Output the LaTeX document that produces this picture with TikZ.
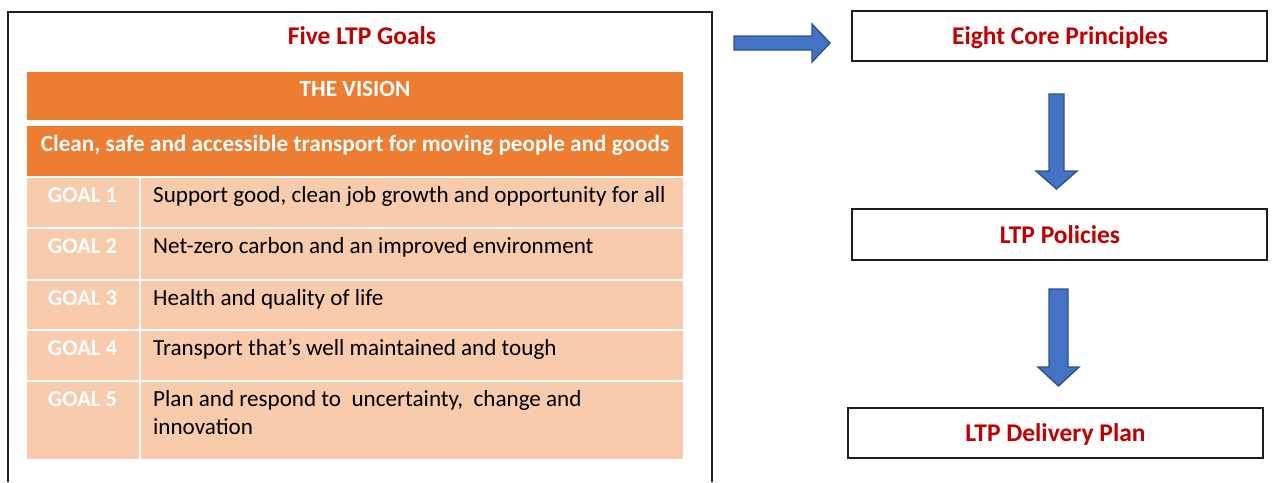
\documentclass[tikz,border=0pt]{standalone}
\usepackage{fontspec}
\setmainfont{Carlito}
\usetikzlibrary{calc}
\definecolor{ltpred}{HTML}{C00000}
\definecolor{ltporange}{HTML}{ED7D31}
\definecolor{ltppeach}{HTML}{F8CBAD}
\definecolor{arrowfill}{HTML}{4472C4}
\definecolor{arrowline}{HTML}{2F528F}
\definecolor{frame}{HTML}{1E1E1E}
\tikzset{
  heading/.style={font=\fontsize{25.5}{28}\selectfont\bfseries, text=ltpred, inner sep=0pt, anchor=base},
  bandtext/.style={font=\fontsize{23.2}{28}\selectfont\bfseries, text=white, inner sep=0pt, anchor=base},
  goallabel/.style={font=\fontsize{22.6}{28}\selectfont\bfseries, text=white, inner sep=0pt, anchor=base},
  goaltext/.style={font=\fontsize{23.1}{28}\selectfont, text=black, inner sep=0pt, anchor=base west, align=left},
  stagebox/.style={draw=frame, line width=2pt, fill=white},
  blockarrow/.style={fill=arrowfill, draw=arrowline, line width=1.4pt, line join=miter},
}
\begin{document}
\begin{tikzpicture}[x=1pt, y=-1pt]
\useasboundingbox (0,0) rectangle (1273,482);

% outer frame of the goals panel (runs off the bottom edge)
\draw[frame, line width=1.8pt] (8,482) -- (8,12) -- (712,12) -- (712,482);
\node[heading] (goalstitle) at (362,44) {Five LTP Goals};

% vision bands
\fill[ltporange] (27,72) rectangle (683,120);
\fill[ltporange] (27,126) rectangle (683,176);
\node[bandtext] (vision) at (355,96.5) {THE VISION};
\node[bandtext] (visiontext) at (355,151.5) {Clean, safe and accessible transport for moving people and goods};

% goal rows
\foreach \top/\bot/\n in {178/227/1, 229/279/2, 281/329/3, 331/380/4, 382/459/5}{
  \fill[ltppeach] (27,\top) rectangle (139,\bot);
  \fill[ltppeach] (141,\top) rectangle (683,\bot);
  \node[goallabel] (g\n) at (82.5,\top+24.5) {GOAL \n};
}
\node[goaltext] (t1) at (153,202.5) {Support good, clean job growth and opportunity for all};
\node[goaltext] (t2) at (153,253.5) {Net-zero carbon and an improved environment};
\node[goaltext] (t3) at (153,305.5) {Health and quality of life};
\node[goaltext] (t4) at (153,355.5) {Transport that’s well maintained and tough};
\node[goaltext] (t5) at (153,434) {Plan and respond to\ \ uncertainty,\ \ change and\\innovation};

% planning stages
\draw[stagebox] (852,11) rectangle (1267,61);
\node[heading] (principles) at (1060,44) {Eight Core Principles};
\draw[stagebox] (852,209) rectangle (1267,260);
\node[heading] (policies) at (1060,243) {LTP Policies};
\draw[stagebox] (848,408) rectangle (1263,458);
\node[heading] (delivery) at (1055.5,441) {LTP Delivery Plan};

% block arrows
\draw[blockarrow] (734,36) -- (812,36) -- (812,24) -- (830,43) -- (812,62) -- (812,50) -- (734,50) -- cycle;
\draw[blockarrow] (1049,94) -- (1064,94) -- (1064,171) -- (1077,171) -- (1056.5,189) -- (1036,171) -- (1049,171) -- cycle;
\draw[blockarrow] (1049,289) -- (1068,289) -- (1068,367) -- (1079,367) -- (1058.5,386) -- (1038,367) -- (1049,367) -- cycle;
\end{tikzpicture}
\end{document}
